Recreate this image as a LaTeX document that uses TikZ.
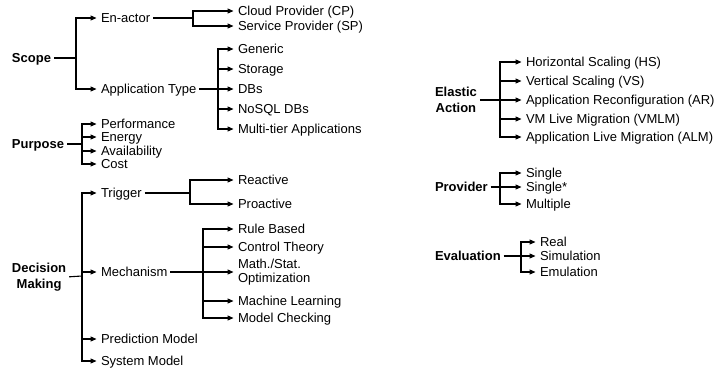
\documentclass[tikz,border=0pt]{standalone}
\usepackage{fontspec}
\setmainfont{Liberation Sans}
\usetikzlibrary{arrows.meta}
\begin{document}
\begin{tikzpicture}[x=1pt,y=-1pt,
  every node/.style={inner sep=0pt, outer sep=0pt},
  lbl/.style={anchor=west, font=\fontsize{13}{14.5}\selectfont, text height=9.3pt, text depth=0pt},
  mlbl/.style={anchor=west, font=\fontsize{13}{14.5}\selectfont, align=left},
  head/.style={anchor=west, font=\fontsize{13}{15.5}\selectfont\bfseries, text height=9.3pt, text depth=0pt},
  mhead/.style={anchor=west, font=\fontsize{13}{15.5}\selectfont\bfseries, align=center},
  conn/.style={line width=1.1pt, black},
  arr/.style={conn, -{Triangle[length=6pt,width=5pt]}, shorten >=4.5pt},
  src/.style={conn, shorten <=3pt}]
\useasboundingbox (0,0) rectangle (717,370);

% ---------- Scope ----------
\node[head] (scope) at (12,58) {Scope};
\node[lbl] (enactor) at (101,18) {En-actor};
\node[lbl] (apptype) at (101,89) {Application Type};
\node[lbl] (cp) at (238,11) {Cloud Provider (CP)};
\node[lbl] (sp) at (238,26) {Service Provider (SP)};
\node[lbl] (generic) at (238,49) {Generic};
\node[lbl] (storage) at (238,69) {Storage};
\node[lbl] (dbs) at (238,89) {DBs};
\node[lbl] (nosql) at (238,109) {NoSQL DBs};
\node[lbl] (multitier) at (238,129) {Multi-tier Applications};
\coordinate (jS) at (76,58);
\coordinate (jE) at (193,18);
\coordinate (jA) at (218,89);
\draw[src] (scope.east) -- (jS);
\draw[arr] (jS) |- (enactor.west);
\draw[arr] (jS) |- (apptype.west);
\draw[src] (enactor.east) -- (jE);
\foreach \c in {cp,sp} \draw[arr] (jE) |- (\c.west);
\draw[src] (apptype.east) -- (jA);
\foreach \c in {generic,storage,dbs,nosql,multitier} \draw[arr] (jA) |- (\c.west);

% ---------- Purpose ----------
\node[head] (purpose) at (12,144) {Purpose};
\node[lbl] (perf) at (101,124) {Performance};
\node[lbl] (energy) at (101,137) {Energy};
\node[lbl] (avail) at (101,151) {Availability};
\node[lbl] (cost) at (101,164) {Cost};
\coordinate (jP) at (82,144);
\draw[src] (purpose.east) -- (jP);
\foreach \c in {perf,energy,avail,cost} \draw[arr] (jP) |- (\c.west);

% ---------- Decision Making ----------
\node[mhead] (dm) at (12,277) {Decision\\Making};
\node[lbl] (trigger) at (101,193) {Trigger};
\node[lbl] (mechanism) at (101,272) {Mechanism};
\node[lbl] (predmodel) at (101,339) {Prediction Model};
\node[lbl] (sysmodel) at (101,361) {System Model};
\node[lbl] (reactive) at (238,180) {Reactive};
\node[lbl] (proactive) at (238,204) {Proactive};
\node[lbl] (rule) at (238,229) {Rule Based};
\node[lbl] (control) at (238,247) {Control Theory};
\node[mlbl] (mathstat) at (238,272) {Math./Stat.\\Optimization};
\node[lbl] (mlearn) at (238,301) {Machine Learning};
\node[lbl] (mcheck) at (238,318) {Model Checking};
\coordinate (jD) at (82,276);
\coordinate (jT) at (190,193);
\coordinate (jM) at (203,272);
\draw[src] (dm.east) -- (jD);
\foreach \c in {trigger,mechanism,predmodel,sysmodel} \draw[arr] (jD) |- (\c.west);
\draw[src] (trigger.east) -- (jT);
\foreach \c in {reactive,proactive} \draw[arr] (jT) |- (\c.west);
\draw[src] (mechanism.east) -- (jM);
\foreach \c in {rule,control,mathstat,mlearn,mcheck} \draw[arr] (jM) |- (\c.west);

% ---------- Elastic Action ----------
\node[mhead] (ea) at (435,100) {Elastic\\Action};
\node[lbl] (hs) at (526,62) {Horizontal Scaling (HS)};
\node[lbl] (vs) at (526,81) {Vertical Scaling (VS)};
\node[lbl] (ar) at (526,100) {Application Reconfiguration (AR)};
\node[lbl] (vmlm) at (526,119) {VM Live Migration (VMLM)};
\node[lbl] (alm) at (526,137) {Application Live Migration (ALM)};
\coordinate (jEA) at (500,100);
\draw[src] (ea.east) -- (jEA);
\foreach \c in {hs,vs,ar,vmlm,alm} \draw[arr] (jEA) |- (\c.west);

% ---------- Provider ----------
\node[head] (provider) at (435,187) {Provider};
\node[lbl] (single) at (526,173) {Single};
\node[lbl] (singlestar) at (526,187) {Single*};
\node[lbl] (multiple) at (526,204) {Multiple};
\coordinate (jPr) at (500,187);
\draw[src] (provider.east) -- (jPr);
\foreach \c in {single,singlestar,multiple} \draw[arr] (jPr) |- (\c.west);

% ---------- Evaluation ----------
\node[head] (evaluation) at (435,256) {Evaluation};
\node[lbl] (real) at (540,242) {Real};
\node[lbl] (simulation) at (540,256) {Simulation};
\node[lbl] (emulation) at (540,272) {Emulation};
\coordinate (jEv) at (521,256);
\draw[src] (evaluation.east) -- (jEv);
\foreach \c in {real,simulation,emulation} \draw[arr] (jEv) |- (\c.west);
\end{tikzpicture}
\end{document}
